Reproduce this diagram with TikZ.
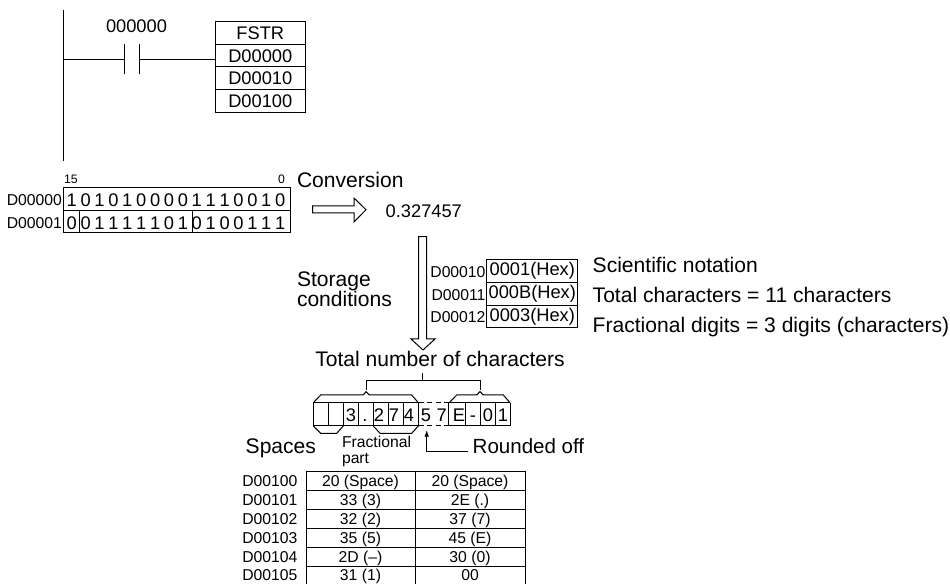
\documentclass[tikz,border=0pt]{standalone}
\usepackage{fontspec}
\setmainfont{Liberation Sans}
\usetikzlibrary{calc,positioning,arrows.meta}
\newcommand{\bigsize}{\fontsize{15.8}{15}\selectfont}
\newcommand{\midsize}{\fontsize{13.7}{16}\selectfont}
\newcommand{\smallsize}{\fontsize{11.8}{12.5}\selectfont}

\begin{document}
\begin{tikzpicture}[x=0.75pt, y=-0.75pt, line width=0.75pt,
  txt/.style={inner sep=0pt, outer sep=0pt, anchor=base west, font=\bigsize},
  tag/.style={inner sep=0pt, outer sep=0pt, anchor=base east, font=\smallsize},
  bit/.style={inner sep=0pt, outer sep=0pt, anchor=base, font=\midsize},
  cell/.style={draw, inner sep=0pt, outer sep=0pt, minimum width=67.9pt, minimum height=16.9pt, font=\midsize},
  hexcell/.style={draw, inner sep=0pt, outer sep=0pt, minimum width=68pt, minimum height=17.1pt, font=\midsize},
  tabletxt/.style={inner sep=0pt, outer sep=0pt, anchor=base, font=\smallsize}]
  \useasboundingbox (0,0) rectangle (950,584);
  % ladder rung
  \coordinate (railtop) at (63,10);
  \coordinate (railbot) at (63,161);
  \coordinate (railmid) at (63,59.5);
  \coordinate (contactl) at (124,59.5);
  \coordinate (contactr) at (139.5,59.5);
  \node[cell] (fstr) at (260.3,33.2) {FSTR};
  \node[cell, below=0pt of fstr] (d0) {D00000};
  \node[cell, below=0pt of d0] (d10) {D00010};
  \node[cell, below=0pt of d10] (d100) {D00100};
  \draw (railtop) -- (railbot);
  \draw (railmid) -- (contactl);
  \draw (contactr) -- (contactr -| d0.west);
  \draw ([yshift=11.25pt]contactl) -- ([yshift=-11.25pt]contactl);
  \draw ([yshift=11.25pt]contactr) -- ([yshift=-11.25pt]contactr);
  \node[bit] (contactname) at (136.5,32.7) {000000};
  % source words
  \node[tag, anchor=base west, font=\fontsize{9.2}{10}\selectfont] (msb) at (64,184) {15};
  \node[tag, font=\fontsize{9.2}{10}\selectfont] (lsb) at (285,184) {0};
  \node[tag] (word0) at (62,206) {D00000};
  \node[tag] (word1) at (62,229) {D00001};
  \draw (63.5,188) rectangle (290.5,233);
  \draw (63.5,210.5) -- (290.5,210.5);
  \draw (79,210.5) -- (79,233);
  \draw (192.3,210.5) -- (192.3,233);
  \foreach \b [count=\i] in {1,0,1,0,1,0,0,0,0,1,1,1,0,0,1,0}
    \node[bit] (top\i) at ({71.7+13.9*(\i-1)},206.7) {\b};
  \foreach \b [count=\i] in {0,0,1,1,1,1,1,0,1,0,1,0,0,1,1,1}
    \node[bit] (low\i) at ({71.7+13.9*(\i-1)},230) {\b};
  \node[txt] (conversion) at (297,187.3) {Conversion};
  \draw (312.7,206) -- (354,206) -- (354,198) -- (366,209.7) -- (354,222) -- (354,213) -- (312.7,213) -- cycle;
  \node[bit, anchor=base west] (value) at (385.7,218) {0.327457};
  % storage conditions
  \draw (418.7,236.7) -- (426.7,236.7) -- (426.7,339) -- (435,339) -- (423,350) -- (411,339) -- (418.7,339) -- cycle;
  \node[txt, anchor=west, align=left] (storage) at (297,289) {Storage\\conditions};
  \node[hexcell] (hex0) at (532.3,271) {0001(Hex)};
  \node[hexcell, below=0pt of hex0] (hex1) {000B(Hex)};
  \node[hexcell, below=0pt of hex1] (hex2) {0003(Hex)};
  \node[tag] (d00010) at (485.5,278) {D00010};
  \node[tag] (d00011) at (485.5,300.5) {D00011};
  \node[tag] (d00012) at (485.5,323) {D00012};
  \node[txt] (notation) at (592.7,272.7) {Scientific notation};
  \node[txt] (total) at (592.7,302.7) {Total characters = 11 characters};
  \node[txt] (digits) at (592.7,332.7) {Fractional digits = 3 digits (characters)};
  % character string
  \node[txt, anchor=base] (totalnum) at (440,367) {Total number of characters};
  \coordinate (stemtop) at (422.7,373.3);
  \draw (stemtop) -- (stemtop |- 0,380.7);
  \draw (366,390) -- (366,380.7) -- (480,380.7) -- (480,390);
  \draw (313.3,402.7) -- (320.7,395) -- (363.3,395) -- (366,391.7) -- (369.3,395) -- (411.7,395) -- (418.3,402.7);
  \draw (449.3,402.7) -- (456.7,395) -- (476.7,395) -- (480,391.7) -- (483.3,395) -- (503.3,395) -- (510,402.7);
  \draw (313.3,426) -- (320.7,433.3) -- (336.7,433.3) -- (343.3,426);
  \draw (373.3,426) -- (380,433.3) -- (411.7,433.3) -- (418.3,426);
  \draw (313.3,403) -- (418.3,403) (313.3,426) -- (418.3,426);
  \draw (448.3,403) -- (510,403) (448.3,426) -- (510,426);
  \draw[dashed, dash pattern=on 4pt off 2.5pt] (418.3,403) -- (448.3,403) (418.3,426) -- (448.3,426);
  \foreach \x in {313.3,328.3,343.3,358.3,373.3,388.3,403.3,418.3,448.3,465,480,495,510}
    \draw (\x,403) -- (\x,426);
  \foreach \x/\c/\n in {351/3/a,365/./b,379/2/c,394/7/d,409/4/e,426/5/f,441.7/7/g,459/E/h,473/-/i,488/0/j,503/1/k}
    \node[bit] (ch\n) at (\x,421.7) {\c};
  \node[txt] (spaces) at (245.7,453.3) {Spaces};
  \node[tabletxt, anchor=base west] (fraca) at (342,447.3) {Fractional};
  \node[tabletxt, anchor=base west] (fracb) at (342,464) {part};
  \coordinate (roundcorner) at (426.7,451.7);
  \node[txt, font=\fontsize{15.4}{15}\selectfont] (rounded) at (472.7,454) {Rounded off};
  \coordinate (roundtip) at (426.7,430);
  \coordinate (roundend) at (468,451.7);
  \draw[-{Latex[length=5pt,width=3.5pt]}] (roundend) -- (roundcorner) -- (roundtip);
  % character codes
  \draw (306,584) -- (306,472) -- (525,472) -- (525,584);
  \draw (415,472) -- (415,584);
  \foreach \y in {490.3,509.3,528.3,547.3,566}
    \draw (306,\y) -- (525,\y);
  \foreach \y/\r/\a/\b [count=\i] in {486.7/D00100/20 (Space)/20 (Space),
      505.7/D00101/33 (3)/2E (.),
      524.3/D00102/32 (2)/37 (7),
      543/D00103/35 (5)/45 (E),
      562/D00104/2D (--)/30 (0),
      580.7/D00105/31 (1)/00} {
    \node[tabletxt, anchor=base west] (reg\i) at (242.3,\y) {\r};
    \node[tabletxt] (hi\i) at (360.5,\y) {\a};
    \node[tabletxt] (lo\i) at (470,\y) {\b};
  }
\end{tikzpicture}
\end{document}
